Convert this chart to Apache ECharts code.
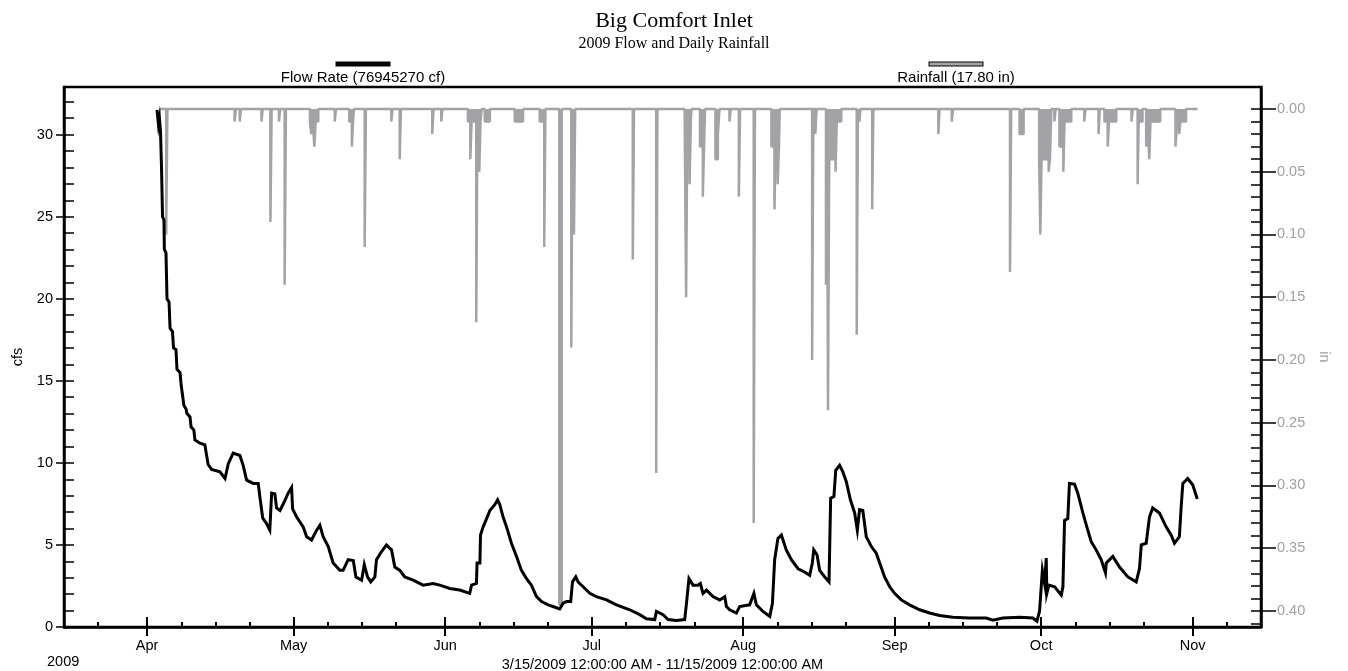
<!DOCTYPE html>
<html>
<head>
<meta charset="utf-8">
<title>Big Comfort Inlet</title>
<script src="https://cdn.jsdelivr.net/npm/echarts@6/dist/echarts.min.js"></script>
<style>
  html, body { margin: 0; padding: 0; background: #fff; }
  #chart { width: 1348px; height: 671px; }
</style>
</head>
<body>
<div id="chart"></div>
<script>
// ---- Flow rate (cfs) ----
const flowTimes = [
  '2009-04-03 01:00','2009-04-03 08:00','2009-04-03 13:00','2009-04-03 18:00','2009-04-03 23:00',
  '2009-04-04 04:00','2009-04-04 11:00','2009-04-04 13:00','2009-04-04 21:00','2009-04-05 02:00',
  '2009-04-05 12:00','2009-04-05 17:00','2009-04-06 05:00','2009-04-06 10:00','2009-04-06 22:00',
  '2009-04-07 03:00','2009-04-07 18:00','2009-04-07 23:00','2009-04-08 08:00','2009-04-08 13:00',
  '2009-04-08 23:00','2009-04-09 04:00','2009-04-09 19:00','2009-04-10 00:00','2009-04-10 14:00',
  '2009-04-10 19:00','2009-04-11 20:00','2009-04-12 20:00','2009-04-13 12:00','2009-04-14 05:00',
  '2009-04-15 22:00','2009-04-16 23:00','2009-04-17 15:00','2009-04-18 15:00','2009-04-20 00:00',
  '2009-04-20 16:00','2009-04-21 09:00','2009-04-22 18:00','2009-04-23 18:00','2009-04-24 02:00',
  '2009-04-24 16:00','2009-04-25 11:00','2009-04-26 03:00','2009-04-26 12:00','2009-04-27 04:00',
  '2009-04-27 12:00','2009-04-28 05:00','2009-04-29 05:00','2009-04-29 21:00','2009-04-30 14:00',
  '2009-04-30 19:00','2009-05-01 15:00','2009-05-02 23:00','2009-05-03 16:00','2009-05-04 16:00',
  '2009-05-05 17:00','2009-05-06 09:00','2009-05-07 01:00','2009-05-08 02:00','2009-05-09 02:00',
  '2009-05-10 11:00','2009-05-11 03:00','2009-05-12 04:00','2009-05-13 05:00','2009-05-13 18:00',
  '2009-05-14 22:00','2009-05-15 11:00','2009-05-16 03:00','2009-05-16 19:00','2009-05-17 15:00',
  '2009-05-17 23:00','2009-05-19 00:00','2009-05-20 00:00','2009-05-21 01:00','2009-05-21 17:00',
  '2009-05-22 18:00','2009-05-23 18:00','2009-05-25 11:00','2009-05-27 12:00','2009-05-29 13:00',
  '2009-05-30 22:00','2009-06-01 23:00','2009-06-04 00:00','2009-06-06 01:00','2009-06-06 10:00',
  '2009-06-07 10:00','2009-06-07 13:00','2009-06-08 03:00','2009-06-08 06:00','2009-06-08 19:00',
  '2009-06-09 12:00','2009-06-10 04:00','2009-06-11 04:00','2009-06-11 18:00','2009-06-12 05:00',
  '2009-06-12 21:00','2009-06-13 14:00','2009-06-14 14:00','2009-06-15 15:00','2009-06-16 15:00',
  '2009-06-17 16:00','2009-06-18 16:00','2009-06-19 17:00','2009-06-20 18:00','2009-06-22 02:00',
  '2009-06-23 02:00','2009-06-24 11:00','2009-06-25 04:00','2009-06-25 20:00','2009-06-26 17:00',
  '2009-06-27 02:00','2009-06-27 18:00','2009-06-28 05:00','2009-06-29 06:00','2009-06-30 15:00',
  '2009-07-01 23:00','2009-07-04 01:00','2009-07-06 02:00','2009-07-08 19:00','2009-07-10 20:00',
  '2009-07-12 05:00','2009-07-13 22:00','2009-07-14 06:00','2009-07-15 15:00','2009-07-16 15:00',
  '2009-07-18 08:00','2009-07-20 01:00','2009-07-20 09:00','2009-07-20 22:00','2009-07-21 18:00',
  '2009-07-22 18:00','2009-07-23 06:00','2009-07-23 19:00','2009-07-24 12:00','2009-07-25 20:00',
  '2009-07-27 05:00','2009-07-28 06:00','2009-07-28 14:00','2009-07-29 06:00','2009-07-30 15:00',
  '2009-07-31 07:00','2009-08-02 08:00','2009-08-03 05:00','2009-08-03 17:00','2009-08-05 01:00',
  '2009-08-06 11:00','2009-08-07 00:00','2009-08-07 11:00','2009-08-08 03:00','2009-08-08 20:00',
  '2009-08-09 20:00','2009-08-10 21:00','2009-08-12 06:00','2009-08-13 14:00','2009-08-14 15:00',
  '2009-08-15 04:00','2009-08-15 11:00','2009-08-16 03:00','2009-08-16 16:00','2009-08-17 17:00',
  '2009-08-18 14:00','2009-08-18 22:00','2009-08-19 14:00','2009-08-19 23:00','2009-08-20 18:00',
  '2009-08-21 10:00','2009-08-22 03:00','2009-08-22 23:00','2009-08-23 20:00','2009-08-24 09:00',
  '2009-08-24 20:00','2009-08-25 12:00','2009-08-26 05:00','2009-08-27 06:00','2009-08-28 06:00',
  '2009-08-28 23:00','2009-08-29 23:00','2009-08-31 00:00','2009-09-01 00:00','2009-09-02 09:00',
  '2009-09-04 02:00','2009-09-06 03:00','2009-09-08 04:00','2009-09-10 05:00','2009-09-12 22:00',
  '2009-09-16 08:00','2009-09-19 18:00','2009-09-21 03:00','2009-09-23 04:00','2009-09-26 14:00',
  '2009-09-29 07:00','2009-09-30 03:00','2009-09-30 16:00','2009-10-01 06:00','2009-10-01 17:00',
  '2009-10-02 01:00','2009-10-02 04:00','2009-10-02 14:00','2009-10-03 18:00','2009-10-05 03:00',
  '2009-10-05 11:00','2009-10-05 19:00','2009-10-06 11:00','2009-10-06 19:00','2009-10-07 20:00',
  '2009-10-08 12:00','2009-10-09 13:00','2009-10-10 13:00','2009-10-11 06:00','2009-10-12 06:00',
  '2009-10-13 07:00','2009-10-14 04:00','2009-10-14 08:00','2009-10-15 16:00','2009-10-17 01:00',
  '2009-10-18 18:00','2009-10-20 11:00','2009-10-21 03:00','2009-10-21 12:00','2009-10-22 12:00',
  '2009-10-23 04:00','2009-10-23 20:00','2009-10-25 05:00','2009-10-26 14:00','2009-10-27 15:00',
  '2009-10-28 07:00','2009-10-29 07:00','2009-10-29 16:00','2009-10-30 00:00','2009-10-31 00:00',
  '2009-11-01 01:00','2009-11-01 23:00'
];
const flowCfs = [
  31.5, 30.6, 31.0, 30.2, 28.0,
  25.0, 24.8, 23.0, 22.8, 20.0,
  19.8, 18.2, 18.0, 17.0, 16.9,
  15.7, 15.5, 14.8, 14.7, 13.5,
  13.3, 13.0, 12.8, 12.2, 12.0,
  11.4, 11.2, 11.1, 9.9, 9.6,
  9.45, 9.05, 9.95, 10.6, 10.45,
  9.85, 8.95, 8.75, 8.75, 7.95,
  6.65, 6.3, 5.9, 8.15, 8.1,
  7.25, 7.1, 7.7, 8.15, 8.5,
  7.2, 6.7, 6.1, 5.5, 5.3,
  5.9, 6.2, 5.5, 4.9, 3.9,
  3.45, 3.45, 4.1, 4.05, 3.05,
  2.85, 3.8, 3.05, 2.75, 3.05,
  4.1, 4.6, 5.0, 4.7, 3.65,
  3.45, 3.05, 2.85, 2.55, 2.65,
  2.55, 2.35, 2.25, 2.05, 2.55,
  2.65, 3.9, 3.9, 5.6, 6.1,
  6.6, 7.1, 7.45, 7.75, 7.45,
  6.7, 6.1, 5.1, 4.3, 3.45,
  2.95, 2.55, 1.85, 1.55, 1.35,
  1.25, 1.1, 1.45, 1.55, 1.55,
  2.75, 3.05, 2.75, 2.45, 2.05,
  1.85, 1.65, 1.35, 1.05, 0.75,
  0.5, 0.45, 0.95, 0.75, 0.45,
  0.4, 0.45, 1.35, 2.95, 2.55,
  2.55, 2.65, 2.05, 2.25, 1.85,
  1.65, 1.85, 1.25, 1.05, 0.85,
  1.25, 1.35, 2.05, 1.35, 0.95,
  0.65, 1.45, 4.1, 5.4, 5.6,
  4.7, 4.1, 3.55, 3.35, 3.15,
  3.9, 4.7, 4.4, 3.45, 3.05,
  2.75, 7.85, 7.95, 9.55, 9.85,
  9.45, 8.85, 7.75, 6.95, 5.9,
  7.15, 7.1, 5.5, 4.9, 4.5,
  3.9, 3.05, 2.45, 2.05, 1.65,
  1.35, 1.05, 0.85, 0.7, 0.6,
  0.55, 0.55, 0.42, 0.55, 0.6,
  0.55, 0.35, 0.95, 3.45, 2.65,
  4.2, 2.05, 2.55, 2.45, 1.95,
  2.45, 6.5, 6.6, 8.75, 8.7,
  8.15, 6.95, 5.9, 5.2, 4.7,
  4.1, 3.3, 3.9, 4.3, 3.65,
  3.05, 2.75, 3.55, 5.0, 5.1,
  6.7, 7.25, 6.95, 6.1, 5.6,
  5.1, 5.5, 7.35, 8.75, 9.05,
  8.65, 7.8
];

// ---- Rainfall (in), sample start times; a 0 closes each burst ----
const rainTimes = [
  '2009-04-03 12:00',
  '2009-04-04 22:00','2009-04-05 04:00',
  '2009-04-18 22:00','2009-04-19 04:00',
  '2009-04-19 23:00','2009-04-20 05:00',
  '2009-04-24 10:00','2009-04-24 16:00',
  '2009-04-26 06:00','2009-04-26 12:00',
  '2009-04-28 00:00','2009-04-28 06:00',
  '2009-04-29 04:00','2009-04-29 10:00',
  '2009-05-04 08:00','2009-05-04 15:00','2009-05-04 22:00','2009-05-05 06:00','2009-05-05 12:00','2009-05-06 01:00',
  '2009-05-09 10:00','2009-05-09 16:00',
  '2009-05-12 09:00','2009-05-12 22:00','2009-05-13 04:00','2009-05-13 08:00',
  '2009-05-15 13:00','2009-05-15 19:00',
  '2009-05-21 00:00','2009-05-21 06:00',
  '2009-05-22 17:00','2009-05-22 23:00',
  '2009-05-29 09:00','2009-05-29 15:00',
  '2009-05-31 05:00','2009-05-31 11:00',
  '2009-06-05 16:00','2009-06-06 04:00','2009-06-06 10:00','2009-06-07 09:00','2009-06-07 15:00','2009-06-08 00:00','2009-06-08 06:00','2009-06-08 12:00',
  '2009-06-09 03:00','2009-06-10 04:00',
  '2009-06-15 06:00','2009-06-16 23:00',
  '2009-06-20 09:00','2009-06-21 07:00','2009-06-21 13:00',
  '2009-06-24 09:00','2009-06-24 21:00',
  '2009-06-26 20:00','2009-06-27 02:00',
  '2009-06-27 09:00','2009-06-27 15:00',
  '2009-07-09 10:00','2009-07-09 16:00',
  '2009-07-14 05:00','2009-07-14 11:00',
  '2009-07-20 01:00','2009-07-20 08:00','2009-07-20 14:00','2009-07-21 01:00','2009-07-21 07:00','2009-07-21 10:00',
  '2009-07-23 04:00','2009-07-23 18:00','2009-07-24 00:00','2009-07-24 05:00',
  '2009-07-26 08:00','2009-07-26 20:00','2009-07-27 04:00',
  '2009-07-29 05:00','2009-07-29 11:00',
  '2009-07-31 03:00','2009-07-31 09:00',
  '2009-08-03 04:00','2009-08-03 10:00',
  '2009-08-06 19:00','2009-08-07 10:00','2009-08-07 16:00','2009-08-08 02:00','2009-08-08 08:00','2009-08-08 12:00',
  '2009-08-15 03:00','2009-08-15 09:00','2009-08-15 19:00','2009-08-16 01:00',
  '2009-08-17 23:00','2009-08-18 05:00','2009-08-18 09:00','2009-08-18 15:00','2009-08-19 22:00','2009-08-20 04:00','2009-08-21 02:00',
  '2009-08-24 06:00','2009-08-24 12:00','2009-08-24 19:00','2009-08-25 01:00',
  '2009-08-27 10:00','2009-08-27 16:00',
  '2009-09-09 23:00','2009-09-10 05:00',
  '2009-09-12 17:00','2009-09-12 23:00',
  '2009-09-24 15:00','2009-09-24 21:00',
  '2009-09-26 14:00','2009-09-27 10:00',
  '2009-09-30 14:00','2009-09-30 20:00','2009-10-01 02:00','2009-10-02 13:00','2009-10-02 19:00','2009-10-03 02:00',
  '2009-10-03 17:00','2009-10-03 23:00',
  '2009-10-04 18:00','2009-10-05 13:00','2009-10-05 19:00','2009-10-07 04:00',
  '2009-10-09 20:00','2009-10-10 02:00',
  '2009-10-12 18:00','2009-10-13 00:00',
  '2009-10-13 23:00','2009-10-14 15:00','2009-10-14 21:00','2009-10-16 09:00',
  '2009-10-19 12:00','2009-10-19 18:00',
  '2009-10-20 18:00','2009-10-21 00:00','2009-10-21 03:00','2009-10-21 18:00',
  '2009-10-22 12:00','2009-10-22 20:00','2009-10-23 03:00','2009-10-23 09:00','2009-10-25 09:00',
  '2009-10-28 12:00','2009-10-28 20:00','2009-10-29 06:00','2009-10-29 12:00','2009-10-30 16:00',
  '2009-11-02 00:00'
];
const rainInches = [
  0,
  0.10, 0,
  0.01, 0,
  0.01, 0,
  0.01, 0,
  0.09, 0,
  0.01, 0,
  0.14, 0,
  0.01, 0.02, 0.01, 0.03, 0.01, 0,
  0.01, 0,
  0.01, 0.03, 0.01, 0,
  0.11, 0,
  0.01, 0,
  0.04, 0,
  0.02, 0,
  0.01, 0,
  0.01, 0.04, 0.01, 0.17, 0.01, 0.05, 0.01, 0,
  0.01, 0,
  0.01, 0,
  0.01, 0.11, 0,
  0.395, 0,
  0.19, 0,
  0.10, 0,
  0.12, 0,
  0.29, 0,
  0.01, 0.15, 0.01, 0.06, 0.01, 0,
  0.03, 0.07, 0.03, 0,
  0.04, 0.02, 0,
  0.01, 0,
  0.07, 0,
  0.33, 0,
  0.03, 0.08, 0.03, 0.06, 0.03, 0,
  0.20, 0, 0.02, 0,
  0.14, 0.04, 0.24, 0.04, 0.05, 0.01, 0,
  0.18, 0, 0.01, 0,
  0.08, 0,
  0.02, 0,
  0.01, 0,
  0.13, 0,
  0.02, 0,
  0.04, 0.10, 0.04, 0.05, 0.04, 0,
  0.01, 0,
  0.03, 0.05, 0.01, 0,
  0.01, 0,
  0.02, 0,
  0.01, 0.03, 0.01, 0,
  0.01, 0,
  0.06, 0, 0.01, 0,
  0.03, 0.01, 0.04, 0.01, 0,
  0.03, 0.01, 0.02, 0.01, 0,
  0
];

// ---- Axis ticks ----
const monthNames = ['Jan','Feb','Mar','Apr','May','Jun','Jul','Aug','Sep','Oct','Nov','Dec'];
const axisStart = '2009-03-15 00:00';
const axisEnd = '2009-11-15 00:00';
const majorMonths = [3, 4, 5, 6, 7, 8, 9, 10];       // Apr .. Nov (month index)
const minorDays = [8, 15, 22];                        // weekly minor ticks within each month
const cfsLabels = [0, 5, 10, 15, 20, 25, 30];
const inLabels = [0, 0.05, 0.10, 0.15, 0.20, 0.25, 0.30, 0.35, 0.40];
const cfsMax = 32.9;
const inMin = -0.0175;
const inMax = 0.4128;

const FLOW_NAME = 'Flow Rate (76945270 cf)';
const RAIN_NAME = 'Rainfall (17.80 in)';
const SANS = 'Liberation Sans, Arial, sans-serif';
const SERIF = 'Liberation Serif, Times New Roman, serif';
const FS = 14.5;
const RAIN_GRAY = '#a3a3a7';
const LABEL_GRAY = '#a0a0a0';

const toMs = s => {
  const [d, t] = s.split(' ');
  const [y, m, dd] = d.split('-').map(Number);
  const [hh, mm] = (t || '00:00').split(':').map(Number);
  return new Date(y, m - 1, dd, hh, mm).getTime();
};
const xMin = toMs(axisStart);
const xMax = toMs(axisEnd);
const majorTicks = majorMonths.map(m => new Date(2009, m, 1).getTime());
const minorTicks = [new Date(2009, 2, 22).getTime()];
for (const m of majorMonths) for (const d of minorDays) minorTicks.push(new Date(2009, m, d).getTime());
const minorInRange = minorTicks.filter(v => v > xMin && v < xMax);

const cfsMinor = [];
for (let v = 0; v <= 32; v++) cfsMinor.push(v);
const inMinor = [];
for (let i = 0; i <= 41; i++) inMinor.push(+(i * 0.01).toFixed(2));

const flowData = flowTimes.map((t, i) => [toMs(t), flowCfs[i]]);
const rainData = rainTimes.map((t, i) => [toMs(t), rainInches[i]]);

const chart = echarts.init(document.getElementById('chart'), null, { renderer: 'canvas' });

// time runs on a numeric (millisecond) axis so tick positions can be set explicitly
const baseX = {
  type: 'value', min: xMin, max: xMax, position: 'bottom', scale: true,
  splitLine: { show: false }, axisPointer: { show: false }
};
const blackLine = { onZero: false, lineStyle: { color: '#000', width: 2.5 } };
const hiddenLine = { show: false, onZero: false };

chart.setOption({
  animation: false,
  backgroundColor: '#fff',
  title: {
    text: 'Big Comfort Inlet',
    subtext: '2009 Flow and Daily Rainfall',
    left: 'center', top: 5, itemGap: 4,
    textStyle: { fontFamily: SERIF, fontSize: 22, fontWeight: 'normal', color: '#000' },
    subtextStyle: { fontFamily: SERIF, fontSize: 16, color: '#000' }
  },
  legend: [
    {
      data: [FLOW_NAME], left: 233, top: 58, padding: 0, icon: 'none', itemWidth: 0, itemHeight: 0,
      selectedMode: false,
      formatter: n => '{bar|}\n{t|' + n + '}',
      textStyle: {
        rich: {
          bar: { width: 55, height: 5, backgroundColor: '#000', align: 'center', lineHeight: 12 },
          t: { width: 250, align: 'center', fontFamily: SANS, fontSize: 15, color: '#000', lineHeight: 16 }
        }
      }
    },
    {
      data: [RAIN_NAME], left: 826, top: 58, padding: 0, icon: 'none', itemWidth: 0, itemHeight: 0,
      selectedMode: false,
      formatter: n => '{bar|}\n{t|' + n + '}',
      textStyle: {
        rich: {
          bar: { width: 53, height: 3, backgroundColor: RAIN_GRAY, borderColor: '#000', borderWidth: 1, align: 'center', lineHeight: 12 },
          t: { width: 250, align: 'center', fontFamily: SANS, fontSize: 15, color: '#000', lineHeight: 16 }
        }
      }
    }
  ],
  graphic: [
    { type: 'text', left: 47, top: 654, style: { text: '2009', font: FS + 'px ' + SANS, fill: '#000' } }
  ],
  grid: {
    left: 64, right: 87, top: 87, bottom: 44, outerBoundsMode: 'none', containLabel: false,
    show: true, borderColor: '#000', borderWidth: 2.5, backgroundColor: 'transparent'
  },
  xAxis: [
    Object.assign({}, baseX, {
      axisLine: blackLine,
      axisTick: { show: true, inside: false, length: 9, customValues: majorTicks, lineStyle: { color: '#000', width: 2 } },
      axisLabel: {
        customValues: majorTicks, margin: 11, color: '#000', fontFamily: SANS, fontSize: FS,
        formatter: v => monthNames[new Date(v).getMonth()]
      },
      name: '3/15/2009 12:00:00 AM - 11/15/2009 12:00:00 AM',
      nameLocation: 'middle', nameGap: 27,
      nameTextStyle: { color: '#000', fontFamily: SANS, fontSize: FS }
    }),
    Object.assign({}, baseX, {
      axisLine: hiddenLine,
      axisTick: { show: true, inside: true, length: 10, customValues: majorTicks, lineStyle: { color: '#000', width: 2 } },
      axisLabel: { show: false }
    }),
    Object.assign({}, baseX, {
      axisLine: hiddenLine,
      axisTick: { show: true, inside: true, length: 5, customValues: minorInRange, lineStyle: { color: '#000', width: 2 } },
      axisLabel: { show: false }
    })
  ],
  yAxis: [
    {
      type: 'value', position: 'left', min: 0, max: cfsMax,
      splitLine: { show: false },
      axisLine: Object.assign({ show: true }, blackLine),
      axisTick: { show: true, inside: false, length: 8, customValues: cfsLabels, lineStyle: { color: '#000', width: 1.5 } },
      axisLabel: { customValues: cfsLabels, margin: 11, color: '#000', fontFamily: SANS, fontSize: FS },
      name: 'cfs', nameLocation: 'middle', nameGap: 38, nameRotate: 90,
      nameTextStyle: { color: '#000', fontFamily: SANS, fontSize: FS }
    },
    {
      type: 'value', position: 'right', inverse: true, min: inMin, max: inMax,
      splitLine: { show: false },
      axisLine: Object.assign({ show: true }, blackLine),
      axisTick: { show: true, inside: false, length: 15, customValues: inLabels, lineStyle: { color: '#000', width: 1.5 } },
      axisLabel: {
        customValues: inLabels, margin: 16, color: LABEL_GRAY, fontFamily: SANS, fontSize: FS,
        formatter: v => v.toFixed(2)
      },
      name: 'in', nameLocation: 'middle', nameGap: 55, nameRotate: -90,
      nameTextStyle: { color: LABEL_GRAY, fontFamily: SANS, fontSize: FS }
    },
    {
      type: 'value', position: 'left', min: 0, max: cfsMax,
      splitLine: { show: false }, axisLine: hiddenLine, axisLabel: { show: false },
      axisTick: { show: true, inside: true, length: 10, customValues: cfsMinor, lineStyle: { color: '#000', width: 1.5 } }
    },
    {
      type: 'value', position: 'right', inverse: true, min: inMin, max: inMax,
      splitLine: { show: false }, axisLine: hiddenLine, axisLabel: { show: false },
      axisTick: { show: true, inside: true, length: 10, customValues: inMinor, lineStyle: { color: '#000', width: 1.5 } }
    }
  ],
  series: [
    {
      name: RAIN_NAME, type: 'line', xAxisIndex: 0, yAxisIndex: 1,
      step: 'end', data: rainData, showSymbol: false, symbol: 'none', z: 2,
      lineStyle: { color: RAIN_GRAY, width: 2.5 },
      itemStyle: { color: RAIN_GRAY },
      areaStyle: { color: RAIN_GRAY, opacity: 1 }
    },
    {
      name: FLOW_NAME, type: 'line', xAxisIndex: 0, yAxisIndex: 0,
      data: flowData, showSymbol: false, symbol: 'none', z: 3,
      lineStyle: { color: '#000', width: 3, join: 'miter' },
      itemStyle: { color: '#000' }
    }
  ]
});
</script>
</body>
</html>
